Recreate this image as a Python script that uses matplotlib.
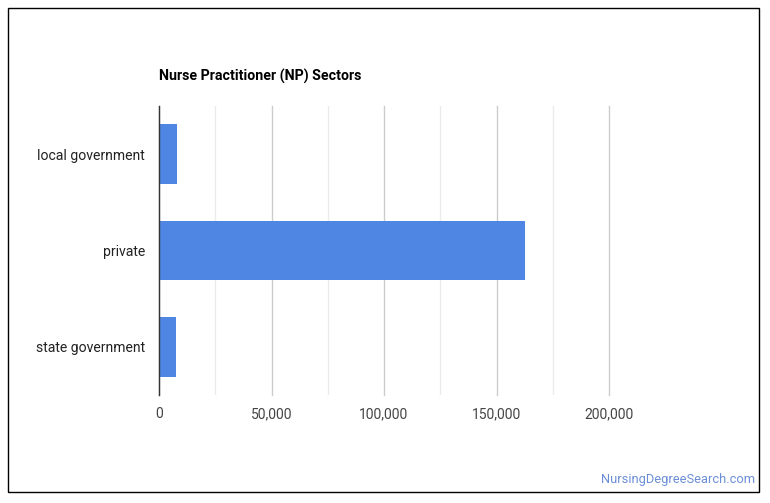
import matplotlib
matplotlib.use("Agg")
import matplotlib.pyplot as plt
from matplotlib.patches import Rectangle
from matplotlib.ticker import FuncFormatter, MultipleLocator

# Dados
setores = ["local government", "private", "state government"]
empregados = [8100, 162700, 7550]

COR_BARRA = "#5086e3"
COR_TEXTO = "#444444"

plt.rcParams["font.family"] = ["Roboto", "DejaVu Sans"]

fig = plt.figure(figsize=(7.7, 5.03), dpi=100)
ax = fig.add_axes([159 / 770, 1 - 395 / 503, 450 / 770, 289 / 503])

ax.barh(setores, empregados, height=0.62, color=COR_BARRA, zorder=3)
ax.set_xlim(0, 200000)
ax.set_ylim(2.5, -0.5)

# grade: linhas principais a cada 50k, secundárias a cada 25k
ax.xaxis.set_major_locator(MultipleLocator(50000))
ax.xaxis.set_minor_locator(MultipleLocator(25000))
ax.xaxis.set_major_formatter(FuncFormatter(lambda v, p: f"{int(v):,}"))
ax.grid(axis="x", which="major", color="#cccccc", linewidth=1, zorder=0)
ax.grid(axis="x", which="minor", color="#ebebeb", linewidth=1, zorder=0)
for linha in ax.get_xgridlines():
    linha.set_clip_on(False)
ax.tick_params(axis="both", which="both", length=0)
ax.tick_params(axis="x", pad=9, labelsize=10, labelcolor=COR_TEXTO)
ax.tick_params(axis="y", pad=10, labelsize=10.1, labelcolor="#222222")

for lado in ("top", "right", "bottom"):
    ax.spines[lado].set_visible(False)
ax.spines["left"].set_color("#333333")
ax.spines["left"].set_linewidth(1)
ax.spines["left"].set_zorder(4)

fig.text(159 / 770, 1 - 76 / 503, "Nurse Practitioner (NP) Sectors",
         fontsize=10.2, weight="bold", color="#000000", ha="left", va="center")
fig.text(755 / 770, 1 - 480 / 503, "NursingDegreeSearch.com",
         fontsize=9.3, color="#6b8fd6", ha="right", va="center")

# moldura em volta da figura
fig.patches.append(Rectangle((8 / 770, 1 - 492 / 503), 751 / 770, 484 / 503,
                             transform=fig.transFigure, fill=False,
                             edgecolor="black", linewidth=1))

fig.savefig("out.png", dpi=100, facecolor="white")
plt.close(fig)
